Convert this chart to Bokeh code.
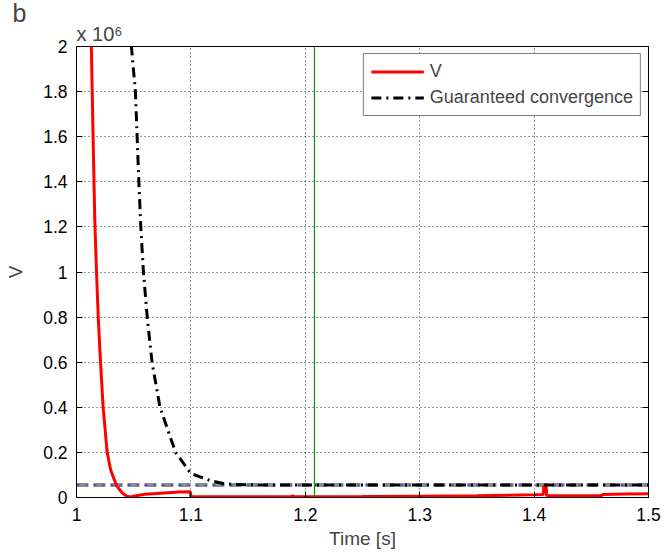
from bokeh.plotting import figure
from bokeh.models import (Span, Title, LinearAxis, Range1d, FixedTicker,
                          CustomJSTickFormatter)
from bokeh.embed import file_html
from bokeh.resources import INLINE

# Data (V in units of 10^6)
red_t = [1.012, 1.013, 1.0145, 1.016, 1.0175, 1.019, 1.021, 1.0233, 1.0268,
         1.030, 1.035, 1.040, 1.044, 1.047, 1.052, 1.060, 1.070, 1.080,
         1.090, 1.0995, 1.1, 1.15, 1.187, 1.189, 1.191, 1.25, 1.30, 1.35,
         1.40, 1.408, 1.4085, 1.4105, 1.411, 1.45, 1.459, 1.46, 1.48, 1.50]
red_v = [2.2, 2.0, 1.6, 1.23, 1.0, 0.8, 0.6, 0.4, 0.2,
         0.12, 0.053, 0.02, 0.006, 0.002, 0.008, 0.014, 0.018, 0.021,
         0.024, 0.025, 0.004, 0.003, 0.003, 0.007, 0.003, 0.004, 0.006, 0.008,
         0.012, 0.013, 0.05, 0.05, 0.008, 0.008, 0.008, 0.013, 0.015, 0.017]

guar_t = [1.047, 1.048, 1.0515, 1.053, 1.0545, 1.0562, 1.0585, 1.0618, 1.066,
          1.073, 1.0866, 1.10, 1.117, 1.13, 1.15, 1.5]
guar_v = [2.2, 2.0, 1.8, 1.6, 1.4, 1.2, 1.0, 0.8, 0.6,
          0.4, 0.2, 0.106, 0.075, 0.06, 0.056, 0.055]

threshold_v = 0.055
marker_t = 1.208

x_ticks = [1.0, 1.1, 1.2, 1.3, 1.4, 1.5]
y_ticks = [0.0, 0.2, 0.4, 0.6, 0.8, 1.0, 1.2, 1.4, 1.6, 1.8, 2.0]

FONT = "Liberation Sans"

p = figure(width=664, height=557, output_backend="svg", toolbar_location=None,
           x_range=Range1d(1.0, 1.5), y_range=Range1d(0, 2),
           title="b")
p.min_border_left = 76
p.min_border_right = 16
p.min_border_top = 46
p.min_border_bottom = 60
p.background_fill_color = "white"
p.border_fill_color = "white"
p.outline_line_color = "black"
p.outline_line_width = 1

p.title.align = "left"
p.title.offset = -64
p.title.text_font = FONT
p.title.text_font_size = "25px"
p.title.text_font_style = "normal"
p.title.standoff = -14

p.add_layout(Title(text="x 10\u2076", align="left", offset=0, text_font=FONT,
                   text_font_size="20px", text_font_style="normal",
                   standoff=3), "above")

fmt = CustomJSTickFormatter(code="return String(Math.round(tick*10)/10);")

for ax in p.xaxis + p.yaxis:
    ax.major_tick_in = 6
    ax.major_tick_out = 0
    ax.minor_tick_line_color = None
    ax.axis_line_color = "black"
    ax.major_label_text_font = FONT
    ax.major_label_text_font_size = "17.5px"
    ax.major_label_text_color = "black"
    ax.axis_label_text_font = FONT
    ax.axis_label_text_font_size = "19px"
    ax.axis_label_text_font_style = "normal"
    ax.formatter = fmt

p.xaxis.ticker = FixedTicker(ticks=x_ticks)
p.yaxis.ticker = FixedTicker(ticks=y_ticks)
p.xaxis.axis_label = "Time [s]"
p.yaxis.axis_label = "V"
p.xaxis.major_label_standoff = 10
p.yaxis.major_label_standoff = 9
p.xaxis.axis_label_standoff = 4
p.yaxis.axis_label_standoff = 14

# right box axis with inward ticks only
right = LinearAxis(ticker=FixedTicker(ticks=y_ticks), major_label_text_alpha=0,
                   major_label_text_font_size="1px", major_tick_in=6,
                   major_tick_out=0, minor_tick_line_color=None)
p.add_layout(right, "right")

for g in (p.xgrid, p.ygrid):
    g.grid_line_color = "black"
    g.grid_line_dash = "1 3"
    g.grid_line_alpha = 0.8

# threshold lines
p.line(x=[1.0, 1.5], y=[threshold_v, threshold_v], line_color="#8c8c8c",
       line_width=4, line_dash="12 5")
p.line(x=[1.0, 1.5], y=[threshold_v, threshold_v], line_color="#2a2aff",
       line_width=1.2, line_dash="3 6 2 6")

p.add_layout(Span(location=marker_t, dimension="height", line_color="#009900",
                  line_width=1.2))

p.line(x=red_t, y=red_v, line_color="red", line_width=3, legend_label="V")
p.line(x=guar_t, y=guar_v, line_color="black", line_width=3,
       line_dash="10 5 2 5", legend_label="Guaranteed convergence")

lg = p.legend[0]
lg.location = "top_right"
lg.margin = 7
lg.border_line_color = "black"
lg.border_line_width = 1
lg.label_text_font = FONT
lg.label_text_font_size = "18px"
lg.glyph_width = 53
lg.glyph_height = 21
lg.label_standoff = 6
lg.padding = 7
lg.spacing = 5
lg.background_fill_alpha = 1

open("out.html", "w").write(file_html(p, INLINE))
